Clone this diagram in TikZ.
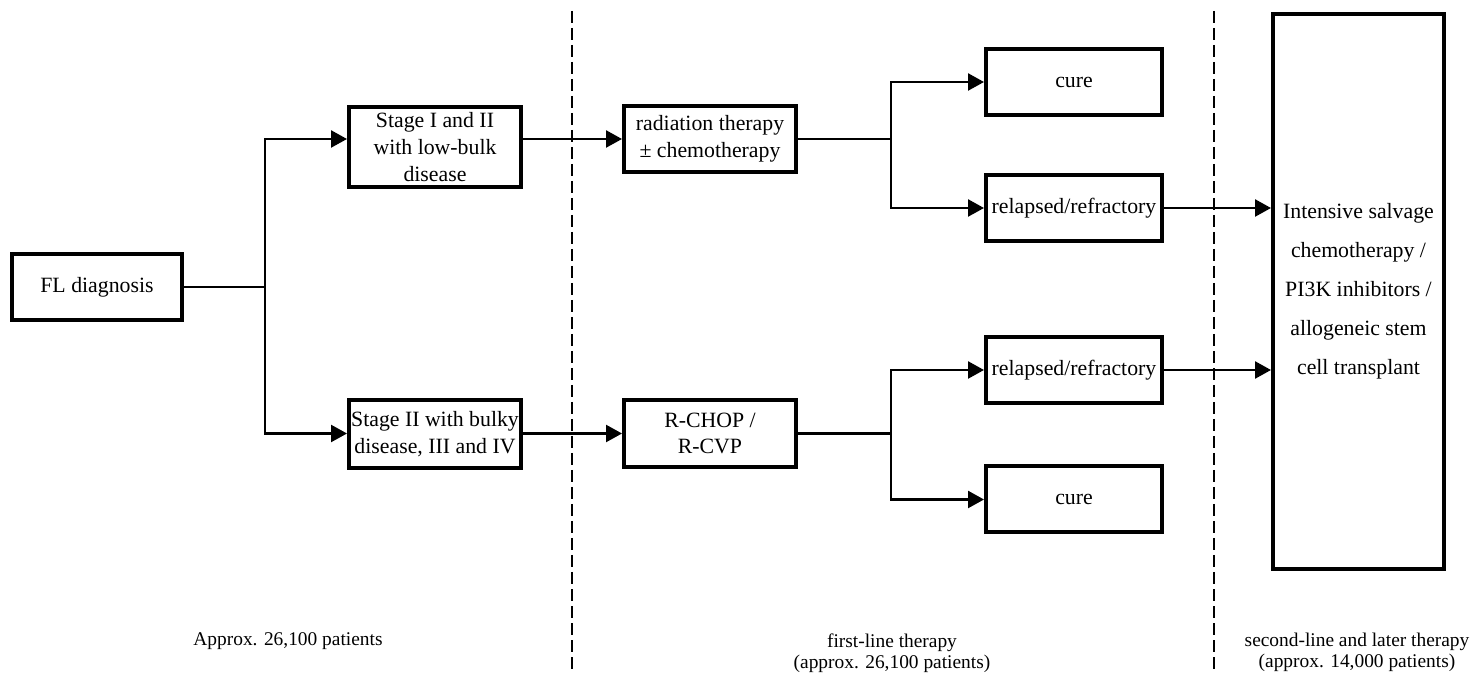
\documentclass[tikz,border=0pt]{standalone}
\usepackage{fontspec}
\setmainfont{Liberation Serif}
\usetikzlibrary{arrows.meta}
\newcommand\boxfs{\fontsize{10.9}{13.3}\selectfont}
\newcommand\bigfs{\fontsize{10.9}{19.5}\selectfont}
\newcommand\labfs{\fontsize{9.7}{10.6}\selectfont}
\tikzset{
  box/.style={draw, line width=2pt, inner sep=0pt, align=center, font=\boxfs},
  conn/.style={line width=1.2pt},
  arr/.style={conn, -{Triangle[length=8pt,width=8.5pt]}},
  divider/.style={line width=0.8pt, dash pattern=on 6pt off 2.5pt},
  lbl/.style={align=center, font=\labfs, inner sep=0pt}
}
\begin{document}
\begin{tikzpicture}[x=0.5pt,y=-0.5pt]
\useasboundingbox (0,0) rectangle (1473,673);
% dividers
\coordinate (d1t) at (572,11);
\coordinate (d1b) at (572,673);
\coordinate (d2t) at (1214,11);
\coordinate (d2b) at (1214,673);
\draw[divider] (d1t) -- (d1b);
\draw[divider] (d2t) -- (d2b);
% nodes
\node[box, minimum width=85pt, minimum height=33pt] (fl) at (97,287) {FL diagnosis};
\node[box, minimum width=86pt, minimum height=40pt] (s1) at (435,147) {Stage I and II\\with low-bulk\\disease};
\node[box, minimum width=86pt, minimum height=34pt] (s2) at (435,434) {Stage II with bulky\\disease, III and IV};
\node[box, minimum width=86pt, minimum height=33pt] (rad) at (710,139) {radiation therapy\\± chemotherapy};
\node[box, minimum width=86pt, minimum height=33.5pt] (rchop) at (710,433.5) {R-CHOP /\\R-CVP};
\node[box, minimum width=88pt, minimum height=33pt] (cure1) at (1074,82) {cure};
\node[box, minimum width=88pt, minimum height=33pt] (rel1) at (1074,208) {relapsed/refractory};
\node[box, minimum width=88pt, minimum height=33pt] (rel2) at (1074,370) {relapsed/refractory};
\node[box, minimum width=88pt, minimum height=33pt] (cure2) at (1074,499.5) {cure};
\node[box, font=\bigfs, minimum width=85.5pt, minimum height=277.5pt] (big) at (1358.5,291.5) {Intensive salvage\\chemotherapy /\\PI3K inhibitors /\\allogeneic stem\\cell transplant};
% junctions
\coordinate (j1) at (265,287);
\coordinate (j2) at (891,139);
\coordinate (j3) at (891,433.5);
% connectors
\draw[conn] (fl.east) -- (j1);
\draw[arr] (j1) |- (s1.west |- rad.west);
\draw[arr] (j1) |- (s2.west |- rchop.west);
\draw[arr] (s1.east |- rad.west) -- (rad.west);
\draw[arr] (s2.east |- rchop.west) -- (rchop.west);
\draw[conn] (rad.east) -- (j2);
\draw[arr] (j2) |- (cure1.west);
\draw[arr] (j2) |- (rel1.west);
\draw[conn] (rchop.east) -- (j3);
\draw[arr] (j3) |- (rel2.west);
\draw[arr] (j3) |- (cure2.west);
\draw[arr] (rel1.east) -- (rel1.east -| big.west);
\draw[arr] (rel2.east) -- (rel2.east -| big.west);
% labels
\node[lbl] (lab1) at (288,641) {Approx. 26,100 patients};
\node[lbl] (lab2) at (892,653) {first-line therapy\\(approx. 26,100 patients)};
\node[lbl] (lab3) at (1357,652) {second-line and later therapy\\(approx. 14,000 patients)};
\end{tikzpicture}
\end{document}
